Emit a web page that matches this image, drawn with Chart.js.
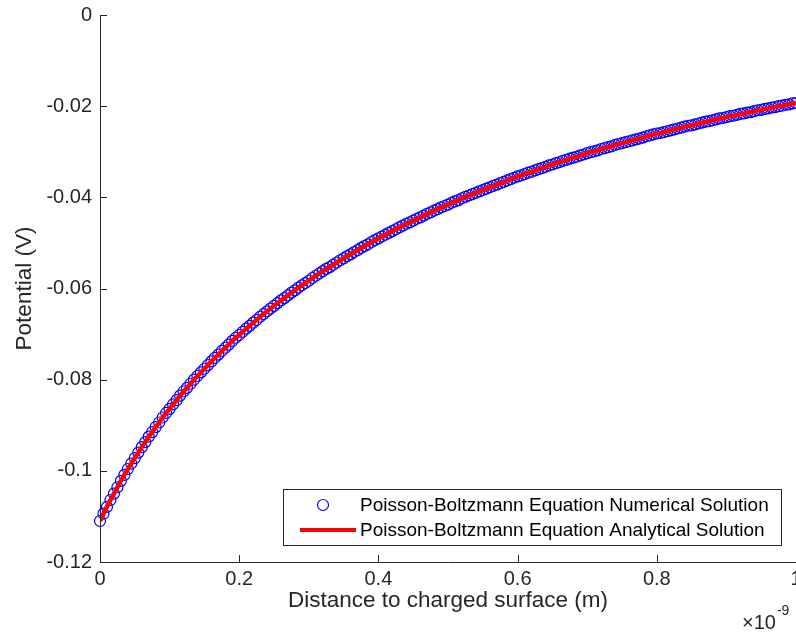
<!DOCTYPE html>
<html>
<head>
<meta charset="utf-8">
<script src="https://cdn.jsdelivr.net/npm/chart.js@4.4.1/dist/chart.umd.min.js"></script>
<style>
  html, body { margin: 0; padding: 0; background: #fff; }
  #wrap { width: 796px; height: 635px; }
</style>
</head>
<body>
<div id="wrap"><canvas id="potentialChart" width="796" height="635"></canvas></div>
<script>
// distance to surface, in units of 1e-9 m
const distanceE9 = [
  0, 0.005, 0.01, 0.015, 0.02, 0.025, 0.03, 0.035, 0.04, 0.045,
  0.05, 0.055, 0.06, 0.065, 0.07, 0.075, 0.08, 0.085, 0.09, 0.095,
  0.1, 0.105, 0.11, 0.115, 0.12, 0.125, 0.13, 0.135, 0.14, 0.145,
  0.15, 0.155, 0.16, 0.165, 0.17, 0.175, 0.18, 0.185, 0.19, 0.195,
  0.2, 0.205, 0.21, 0.215, 0.22, 0.225, 0.23, 0.235, 0.24, 0.245,
  0.25, 0.255, 0.26, 0.265, 0.27, 0.275, 0.28, 0.285, 0.29, 0.295,
  0.3, 0.305, 0.31, 0.315, 0.32, 0.325, 0.33, 0.335, 0.34, 0.345,
  0.35, 0.355, 0.36, 0.365, 0.37, 0.375, 0.38, 0.385, 0.39, 0.395,
  0.4, 0.405, 0.41, 0.415, 0.42, 0.425, 0.43, 0.435, 0.44, 0.445,
  0.45, 0.455, 0.46, 0.465, 0.47, 0.475, 0.48, 0.485, 0.49, 0.495,
  0.5, 0.505, 0.51, 0.515, 0.52, 0.525, 0.53, 0.535, 0.54, 0.545,
  0.55, 0.555, 0.56, 0.565, 0.57, 0.575, 0.58, 0.585, 0.59, 0.595,
  0.6, 0.605, 0.61, 0.615, 0.62, 0.625, 0.63, 0.635, 0.64, 0.645,
  0.65, 0.655, 0.66, 0.665, 0.67, 0.675, 0.68, 0.685, 0.69, 0.695,
  0.7, 0.705, 0.71, 0.715, 0.72, 0.725, 0.73, 0.735, 0.74, 0.745,
  0.75, 0.755, 0.76, 0.765, 0.77, 0.775, 0.78, 0.785, 0.79, 0.795,
  0.8, 0.805, 0.81, 0.815, 0.82, 0.825, 0.83, 0.835, 0.84, 0.845,
  0.85, 0.855, 0.86, 0.865, 0.87, 0.875, 0.88, 0.885, 0.89, 0.895,
  0.9, 0.905, 0.91, 0.915, 0.92, 0.925, 0.93, 0.935, 0.94, 0.945,
  0.95, 0.955, 0.96, 0.965, 0.97, 0.975, 0.98, 0.985, 0.99, 0.995,
  1
];

// potential (V), numerical solution
const numericalPotential = [
  -0.1110, -0.1094, -0.1079, -0.1064, -0.1050, -0.1036, -0.1022, -0.1009, -0.0996, -0.0984,
  -0.0972, -0.0960, -0.0948, -0.0937, -0.0925, -0.0915, -0.0904, -0.0894, -0.0883, -0.0873,
  -0.0864, -0.0854, -0.0845, -0.0835, -0.0826, -0.0818, -0.0809, -0.0800, -0.0792, -0.0784,
  -0.0776, -0.0768, -0.0760, -0.0752, -0.0745, -0.0737, -0.0730, -0.0723, -0.0715, -0.0708,
  -0.0702, -0.0695, -0.0688, -0.0682, -0.0675, -0.0669, -0.0662, -0.0656, -0.0650, -0.0644,
  -0.0638, -0.0632, -0.0626, -0.0621, -0.0615, -0.0609, -0.0604, -0.0598, -0.0593, -0.0588,
  -0.0583, -0.0577, -0.0572, -0.0567, -0.0562, -0.0557, -0.0553, -0.0548, -0.0543, -0.0538,
  -0.0534, -0.0529, -0.0525, -0.0520, -0.0516, -0.0511, -0.0507, -0.0503, -0.0498, -0.0494,
  -0.0490, -0.0486, -0.0482, -0.0478, -0.0474, -0.0470, -0.0466, -0.0462, -0.0458, -0.0455,
  -0.0451, -0.0447, -0.0444, -0.0440, -0.0436, -0.0433, -0.0429, -0.0426, -0.0422, -0.0419,
  -0.0416, -0.0412, -0.0409, -0.0406, -0.0402, -0.0399, -0.0396, -0.0393, -0.0390, -0.0387,
  -0.0384, -0.0381, -0.0378, -0.0375, -0.0372, -0.0369, -0.0366, -0.0363, -0.0360, -0.0357,
  -0.0354, -0.0352, -0.0349, -0.0346, -0.0344, -0.0341, -0.0338, -0.0336, -0.0333, -0.0330,
  -0.0328, -0.0325, -0.0323, -0.0320, -0.0318, -0.0315, -0.0313, -0.0311, -0.0308, -0.0306,
  -0.0303, -0.0301, -0.0299, -0.0297, -0.0294, -0.0292, -0.0290, -0.0288, -0.0285, -0.0283,
  -0.0281, -0.0279, -0.0277, -0.0275, -0.0273, -0.0271, -0.0269, -0.0266, -0.0264, -0.0262,
  -0.0260, -0.0259, -0.0257, -0.0255, -0.0253, -0.0251, -0.0249, -0.0247, -0.0245, -0.0243,
  -0.0242, -0.0240, -0.0238, -0.0236, -0.0234, -0.0233, -0.0231, -0.0229, -0.0227, -0.0226,
  -0.0224, -0.0222, -0.0221, -0.0219, -0.0217, -0.0216, -0.0214, -0.0213, -0.0211, -0.0209,
  -0.0208, -0.0206, -0.0205, -0.0203, -0.0202, -0.0200, -0.0199, -0.0197, -0.0196, -0.0194,
  -0.0193
];

// analytical solution lies on top of the numerical one in the plot
const analyticalPotential = numericalPotential.slice();

const xTicks = [0, 0.2, 0.4, 0.6, 0.8, 1];
const yTicks = [-0.12, -0.1, -0.08, -0.06, -0.04, -0.02, 0];

const seriesNames = [
  'Poisson-Boltzmann Equation Numerical Solution',
  'Poisson-Boltzmann Equation Analytical Solution'
];

const axisColor = '#262626';
const fontFamily = '"Liberation Sans", Arial, Helvetica, sans-serif';

function toPoints(ys) {
  return distanceE9.map((x, i) => ({ x: x, y: ys[i] }));
}

function fmt(v) {
  return String(parseFloat(v.toFixed(4)));
}

// axes lines, inward ticks, x labels, titles, exponent and legend (MATLAB look)
const matlabDecor = {
  id: 'matlabDecor',
  afterDraw(chart) {
    const ctx = chart.ctx;
    const xs = chart.scales.x;
    const ys = chart.scales.y;
    const area = chart.chartArea;
    ctx.save();
    ctx.strokeStyle = axisColor;
    ctx.lineWidth = 1;
    ctx.beginPath();
    ctx.moveTo(area.left + 0.5, area.top);
    ctx.lineTo(area.left + 0.5, area.bottom + 0.5);
    ctx.lineTo(area.right, area.bottom + 0.5);
    ctx.stroke();

    ctx.beginPath();
    xTicks.forEach(t => {
      const px = Math.round(xs.getPixelForValue(t)) + 0.5;
      ctx.moveTo(px, area.bottom);
      ctx.lineTo(px, area.bottom - 7);
    });
    yTicks.forEach(t => {
      const py = Math.round(ys.getPixelForValue(t)) + 0.5;
      ctx.moveTo(area.left, py);
      ctx.lineTo(area.left + 7, py);
    });
    ctx.stroke();

    // x tick labels
    ctx.fillStyle = axisColor;
    ctx.font = '20px ' + fontFamily;
    ctx.textAlign = 'center';
    ctx.textBaseline = 'middle';
    xTicks.forEach(t => {
      ctx.fillText(fmt(t), xs.getPixelForValue(t), 579);
    });

    // axis titles
    ctx.font = '22.5px ' + fontFamily;
    ctx.fillText('Distance to charged surface (m)', (area.left + area.right) / 2, 601);
    ctx.save();
    ctx.translate(25, (area.top + area.bottom) / 2);
    ctx.rotate(-Math.PI / 2);
    ctx.fillText('Potential (V)', 0, 0);
    ctx.restore();

    // x10^-9 exponent
    ctx.textAlign = 'left';
    ctx.font = '20px ' + fontFamily;
    ctx.fillText('\u00d710', 742, 623);
    const w = ctx.measureText('\u00d710').width;
    ctx.font = '14px ' + fontFamily;
    ctx.fillText('-9', 742 + w + 1, 611);

    // legend
    const lx = 283, ly = 489, lw = 498, lh = 56;
    ctx.fillStyle = '#ffffff';
    ctx.fillRect(lx, ly, lw, lh);
    ctx.strokeStyle = '#262626';
    ctx.lineWidth = 1;
    ctx.strokeRect(lx + 0.5, ly + 0.5, lw, lh);

    const row1 = 505, row2 = 530;
    ctx.strokeStyle = '#0000ff';
    ctx.lineWidth = 1.2;
    ctx.beginPath();
    ctx.arc(323, row1, 5.5, 0, Math.PI * 2);
    ctx.stroke();

    ctx.strokeStyle = '#ff0000';
    ctx.lineWidth = 4;
    ctx.beginPath();
    ctx.moveTo(300, row2);
    ctx.lineTo(356, row2);
    ctx.stroke();

    ctx.fillStyle = '#000000';
    ctx.font = '19px ' + fontFamily;
    ctx.textAlign = 'left';
    ctx.textBaseline = 'middle';
    ctx.fillText(seriesNames[0], 360, row1 + 1);
    ctx.fillText(seriesNames[1], 360, row2 + 1);
    ctx.restore();
  }
};

new Chart(document.getElementById('potentialChart').getContext('2d'), {
  type: 'scatter',
  data: {
    datasets: [
      {
        label: seriesNames[1],
        data: toPoints(analyticalPotential),
        showLine: true,
        borderColor: '#ff0000',
        borderWidth: 4.5,
        pointRadius: 0,
        fill: false,
        tension: 0,
        order: 0
      },
      {
        label: seriesNames[0],
        data: toPoints(numericalPotential),
        showLine: false,
        pointStyle: 'circle',
        pointRadius: 5.5,
        pointBorderWidth: 1.2,
        pointBorderColor: '#0000ff',
        pointBackgroundColor: 'rgba(0,0,0,0)',
        clip: false,
        order: 1
      }
    ]
  },
  options: {
    responsive: false,
    animation: false,
    events: [],
    layout: { autoPadding: false, padding: { top: 15, right: 0, left: 0, bottom: 0 } },
    plugins: {
      legend: { display: false },
      tooltip: { enabled: false }
    },
    scales: {
      x: {
        type: 'linear',
        min: 0,
        max: 1,
        afterBuildTicks(scale) { scale.ticks = xTicks.map(v => ({ value: v })); },
        afterFit(scale) {
          scale.height = 73;
          scale.paddingLeft = 0;
          scale.paddingRight = 0;
        },
        grid: { display: false, drawTicks: false },
        border: { display: false },
        ticks: { display: false }
      },
      y: {
        type: 'linear',
        min: -0.12,
        max: 0,
        afterBuildTicks(scale) { scale.ticks = yTicks.map(v => ({ value: v })); },
        afterFit(scale) {
          scale.width = 100;
          scale.paddingTop = 0;
          scale.paddingBottom = 0;
        },
        grid: { display: false, drawTicks: false },
        border: { display: false },
        ticks: {
          color: axisColor,
          padding: 8,
          font: { family: fontFamily, size: 20 },
          callback: v => fmt(v)
        }
      }
    }
  },
  plugins: [matlabDecor]
});
</script>
</body>
</html>
